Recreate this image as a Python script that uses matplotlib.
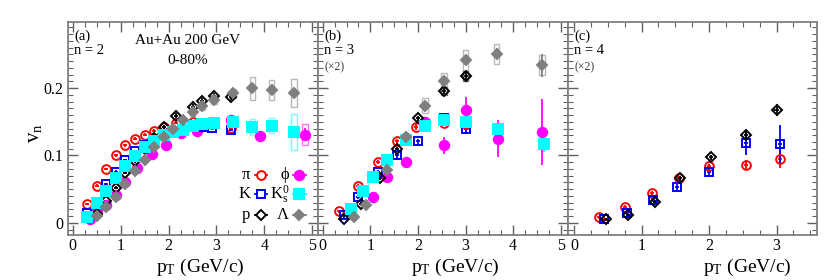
import matplotlib
matplotlib.use("Agg")
import matplotlib.pyplot as plt
from matplotlib.patches import Rectangle
from matplotlib.ticker import MultipleLocator, FuncFormatter

plt.rcParams['font.family'] = ['Liberation Serif', 'DejaVu Serif']
plt.rcParams['mathtext.fontset'] = 'custom'
plt.rcParams['mathtext.rm'] = 'Liberation Serif'
plt.rcParams['mathtext.it'] = 'Liberation Serif:italic'

# ---- panel (a): v2 ----
pt_pi_2 = [0.3, 0.5, 0.7, 0.9, 1.1, 1.3, 1.5, 1.7, 1.9, 2.15, 2.5, 2.9, 3.3]
v_pi_2 = [0.028, 0.055, 0.080, 0.100, 0.115, 0.125, 0.131, 0.137, 0.142, 0.148, 0.149, 0.146, 0.141]
e_pi_2 = [0.002] * 13

pt_k_2 = [0.3, 0.5, 0.7, 0.9, 1.1, 1.3, 1.5, 1.7, 1.9, 2.2, 2.5, 2.7, 2.9, 3.3]
v_k_2 = [0.014, 0.031, 0.057, 0.076, 0.093, 0.106, 0.116, 0.123, 0.131, 0.137, 0.143, 0.142, 0.141, 0.138]
e_k_2 = [0.002] * 14

pt_p_2 = [0.5, 0.7, 0.9, 1.1, 1.3, 1.5, 1.7, 1.9, 2.15, 2.5, 2.7, 2.95, 3.3]
v_p_2 = [0.013, 0.032, 0.052, 0.074, 0.092, 0.110, 0.126, 0.142, 0.159, 0.172, 0.181, 0.188, 0.187]
e_p_2 = [0.002, 0.002, 0.002, 0.002, 0.003, 0.003, 0.003, 0.003, 0.004, 0.004, 0.004, 0.005, 0.005]

pt_phi_2 = [0.35, 0.5, 0.7, 0.9, 1.1, 1.35, 1.65, 1.95, 2.25, 2.6, 2.9, 3.3, 3.9, 4.85]
v_phi_2 = [0.006, 0.019, 0.027, 0.041, 0.060, 0.081, 0.102, 0.115, 0.133, 0.136, 0.150, 0.153, 0.129, 0.131]
e_phi_2 = [0.003, 0.003, 0.003, 0.003, 0.003, 0.003, 0.003, 0.003, 0.003, 0.003, 0.004, 0.004, 0.004, 0.010]
s_phi_2 = [0, 0, 0, 0, 0, 0, 0, 0, 0, 0, 0, 0, 0, 0.016]

pt_k0_2 = [0.3, 0.5, 0.7, 0.9, 1.1, 1.3, 1.5, 1.7, 1.9, 2.1, 2.3, 2.5, 2.7, 2.95, 3.35, 3.75, 4.15, 4.62]
v_k0_2 = [0.009, 0.030, 0.048, 0.067, 0.085, 0.099, 0.113, 0.121, 0.130, 0.135, 0.138, 0.143, 0.146, 0.148,
          0.150, 0.142, 0.144, 0.135]
e_k0_2 = [0.002] * 15 + [0.004, 0.005, 0.006]
s_k0_2 = [0] * 15 + [0.012, 0.011, 0.027]

pt_la_2 = [0.5, 0.7, 0.9, 1.1, 1.3, 1.5, 1.7, 1.9, 2.1, 2.3, 2.5, 2.7, 2.95, 3.35, 3.75, 4.15, 4.62]
v_la_2 = [0.010, 0.023, 0.039, 0.057, 0.077, 0.094, 0.112, 0.127, 0.140, 0.153, 0.164, 0.173, 0.183,
          0.192, 0.200, 0.197, 0.193]
e_la_2 = [0.002] * 14 + [0.005, 0.006, 0.007]
s_la_2 = [0, 0, 0, 0, 0, 0, 0, 0, 0, 0, 0.005, 0.005, 0.006, 0.007, 0.017, 0.015, 0.021]

# ---- panel (b): v3 (x2) ----
pt_pi_3 = [0.35, 0.75, 1.15, 1.55, 1.95, 2.55, 3.0]
v_pi_3 = [0.017, 0.055, 0.091, 0.121, 0.142, 0.148, 0.147]
e_pi_3 = [0.002, 0.003, 0.003, 0.004, 0.004, 0.005, 0.006]

pt_k_3 = [0.45, 0.75, 1.15, 1.55, 2.0, 2.55, 3.0]
v_k_3 = [0.011, 0.039, 0.075, 0.100, 0.121, 0.155, 0.140]
e_k_3 = [0.002, 0.003, 0.003, 0.004, 0.004, 0.006, 0.008]

pt_p_3 = [0.45, 0.8, 1.2, 1.55, 2.0, 2.55, 3.0]
v_p_3 = [0.006, 0.028, 0.066, 0.109, 0.155, 0.196, 0.218]
e_p_3 = [0.002, 0.003, 0.003, 0.004, 0.004, 0.005, 0.007]
s_p_3 = [0, 0, 0, 0, 0, 0.006, 0.008]

pt_phi_3 = [0.6, 1.05, 1.35, 1.75, 2.15, 2.55, 3.0, 3.67, 4.6]
v_phi_3 = [0.016, 0.039, 0.068, 0.090, 0.150, 0.115, 0.168, 0.125, 0.135]
e_phi_3 = [0.003, 0.005, 0.005, 0.006, 0.006, 0.013, 0.018, 0.027, 0.049]

pt_k0_3 = [0.6, 0.85, 1.05, 1.35, 1.75, 2.15, 2.55, 3.0, 3.67, 4.65]
v_k0_3 = [0.020, 0.047, 0.068, 0.094, 0.123, 0.143, 0.153, 0.150, 0.139, 0.117]
e_k0_3 = [0.002, 0.003, 0.003, 0.003, 0.004, 0.004, 0.005, 0.006, 0.008, 0.012]
s_k0_3 = [0, 0, 0, 0, 0, 0, 0, 0, 0.007, 0]

pt_la_3 = [0.65, 0.9, 1.35, 1.75, 2.15, 2.55, 3.0, 3.65, 4.6]
v_la_3 = [0.009, 0.026, 0.079, 0.128, 0.174, 0.211, 0.241, 0.251, 0.234]
e_la_3 = [0.002, 0.003, 0.003, 0.004, 0.004, 0.005, 0.006, 0.008, 0.017]
s_la_3 = [0, 0, 0, 0.005, 0.011, 0.012, 0.015, 0.015, 0.015]

# ---- panel (c): v4 (x2) ----
pt_pi_4 = [0.37, 0.75, 1.15, 1.55, 2.0, 2.55, 3.05]
v_pi_4 = [0.008, 0.024, 0.045, 0.067, 0.084, 0.086, 0.095]
e_pi_4 = [0.002, 0.002, 0.003, 0.003, 0.004, 0.008, 0.013]

pt_k_4 = [0.45, 0.78, 1.17, 1.53, 2.0, 2.55, 3.05]
v_k_4 = [0.005, 0.015, 0.034, 0.053, 0.076, 0.119, 0.117]
e_k_4 = [0.002, 0.003, 0.003, 0.004, 0.005, 0.018, 0.028]

pt_p_4 = [0.48, 0.8, 1.2, 1.57, 2.03, 2.55, 3.0]
v_p_4 = [0.005, 0.011, 0.031, 0.066, 0.097, 0.130, 0.168]
e_p_4 = [0.002, 0.002, 0.003, 0.004, 0.004, 0.007, 0.009]

RED, BLUE, BLACK = '#ff0000', '#0000ff', '#000000'
MAG, CYAN, GREY = '#ff00ff', '#00ffff', '#7f7f7f'

# species style: (marker, color, filled, size)
STY = {
    'pi': ('o', RED, False, 6.3),
    'k': ('s', BLUE, False, 6.3),
    'p': ('D', BLACK, False, 4.6),
    'phi': ('o', MAG, True, 6.8),
    'k0': ('s', CYAN, True, 6.8),
    'la': ('D', GREY, True, 4.6),
}


def draw(ax, key, pt, v, err, sys=None, bw=0.06):
    mk, col, filled, ms = STY[key]
    if sys is not None:
        for x, y, s in zip(pt, v, sys):
            if s > 0:
                ax.add_patch(Rectangle((x - bw, y - s), 2 * bw, 2 * s, fill=False,
                                       edgecolor=col, lw=1.0, alpha=0.55, zorder=2))
    ax.errorbar(pt, v, yerr=err, xerr=None if filled else bw * 0.7, fmt=mk, ms=ms,
                mfc=col if filled else 'none', mec=col, mew=1.4, ecolor=col,
                elinewidth=1.3, capsize=0, zorder=3)


fig = plt.figure(figsize=(8.39, 2.8), dpi=100)
W, H = 839.0, 280.0
lefts = [68, 318, 568]
rights = [318, 568, 817]
axs = [fig.add_axes([l / W, 45 / H, (r - l) / W, 213 / H]) for l, r in zip(lefts, rights)]

for i, ax in enumerate(axs):
    ax.set_ylim(-0.018, 0.298)
    ax.yaxis.set_major_locator(MultipleLocator(0.1))
    ax.yaxis.set_minor_locator(MultipleLocator(0.01))
    ax.xaxis.set_major_locator(MultipleLocator(1))
    ax.xaxis.set_minor_locator(MultipleLocator(0.25))
    ax.tick_params(which='both', direction='in', top=True, right=True, colors='#606060',
                   labelcolor='black', labelsize=11.5)
    ax.tick_params(which='major', length=7, width=1.0)
    ax.tick_params(which='minor', length=3.5, width=0.8)
    ax.tick_params(axis='x', pad=2.5)
    for sp in ax.spines.values():
        sp.set_color('#808080')
        sp.set_linewidth(1.3)
    ax.xaxis.set_major_formatter(FuncFormatter(lambda x, p: '%g' % x))
    ax.yaxis.set_major_formatter(FuncFormatter(lambda y, p: '%g' % y))
    if i > 0:
        ax.set_yticklabels([])

axs[0].set_xlim(-0.1, 5.12)
axs[1].set_xlim(-0.1, 5.15)
axs[2].set_xlim(-0.09, 3.6)

a, b, c = axs
draw(a, 'phi', pt_phi_2, v_phi_2, e_phi_2, s_phi_2)
draw(a, 'pi', pt_pi_2, v_pi_2, e_pi_2)
draw(a, 'k', pt_k_2, v_k_2, e_k_2)
draw(a, 'p', pt_p_2, v_p_2, e_p_2)
draw(a, 'k0', pt_k0_2, v_k0_2, e_k0_2, s_k0_2)
draw(a, 'la', pt_la_2, v_la_2, e_la_2, s_la_2)

draw(b, 'phi', pt_phi_3, v_phi_3, e_phi_3)
draw(b, 'pi', pt_pi_3, v_pi_3, e_pi_3)
draw(b, 'k', pt_k_3, v_k_3, e_k_3)
draw(b, 'p', pt_p_3, v_p_3, e_p_3, s_p_3)
draw(b, 'k0', pt_k0_3, v_k0_3, e_k0_3, s_k0_3)
draw(b, 'la', pt_la_3, v_la_3, e_la_3, s_la_3)

draw(c, 'pi', pt_pi_4, v_pi_4, e_pi_4, bw=0.045)
draw(c, 'k', pt_k_4, v_k_4, e_k_4, bw=0.045)
draw(c, 'p', pt_p_4, v_p_4, e_p_4, bw=0.045)

# panel labels
for ax, lab, n in zip(axs, ['(a)', '(b)', '(c)'], [2, 3, 4]):
    ax.text(0.025, 0.965, lab, transform=ax.transAxes, fontsize=10.5, va='top', ha='left')
    ax.text(0.025, 0.895, 'n = %d' % n, transform=ax.transAxes, fontsize=10.5, va='top', ha='left')
    if n > 2:
        ax.text(0.025, 0.815, '(\u00d72)', transform=ax.transAxes, fontsize=8.5, va='top',
                ha='left', color='#333333')
a.text(0.48, 0.915, 'Au+Au 200 GeV', transform=a.transAxes, fontsize=11, ha='center', va='center')
a.text(0.48, 0.82, '0-80%', transform=a.transAxes, fontsize=11, ha='center', va='center')

# legend in panel (a)
leg_rows = [0.282, 0.191, 0.094]
leg = [('pi', '\u03c0', 0, 0), ('phi', '\u03d5', 1, 0), ('k', 'K', 0, 1),
       ('k0', r'$\mathrm{K^0_s}$', 1, 1), ('p', 'p', 0, 2), ('la', '\u039b', 1, 2)]
mx = [0.771, 0.925]
tx = [0.73, 0.885]
for key, lab, col_i, row in leg:
    mk, colr, filled, ms = STY[key]
    y = leg_rows[row]
    a.plot([mx[col_i] - 0.025, mx[col_i] + 0.025], [y, y], color=colr, lw=1.3,
           transform=a.transAxes, clip_on=False, zorder=4)
    a.plot([mx[col_i]], [y], marker=mk, ms=ms, mfc=colr if filled else 'white', mec=colr,
           mew=1.4, transform=a.transAxes, clip_on=False, zorder=5)
    a.text(tx[col_i], y, lab, transform=a.transAxes, fontsize=12, ha='right', va='center')

# axis titles
fig.text(35 / W, 1 - 133 / H, r'$\mathrm{v_n}$', fontsize=15, rotation=90, ha='center', va='center')
for xc in [200, 455, 747]:
    fig.text(xc / W, 1 - 272 / H, r'$\mathrm{p_T}$ (GeV/c)', fontsize=14, ha='center',
             va='baseline')

fig.savefig('out.png', dpi=100)
